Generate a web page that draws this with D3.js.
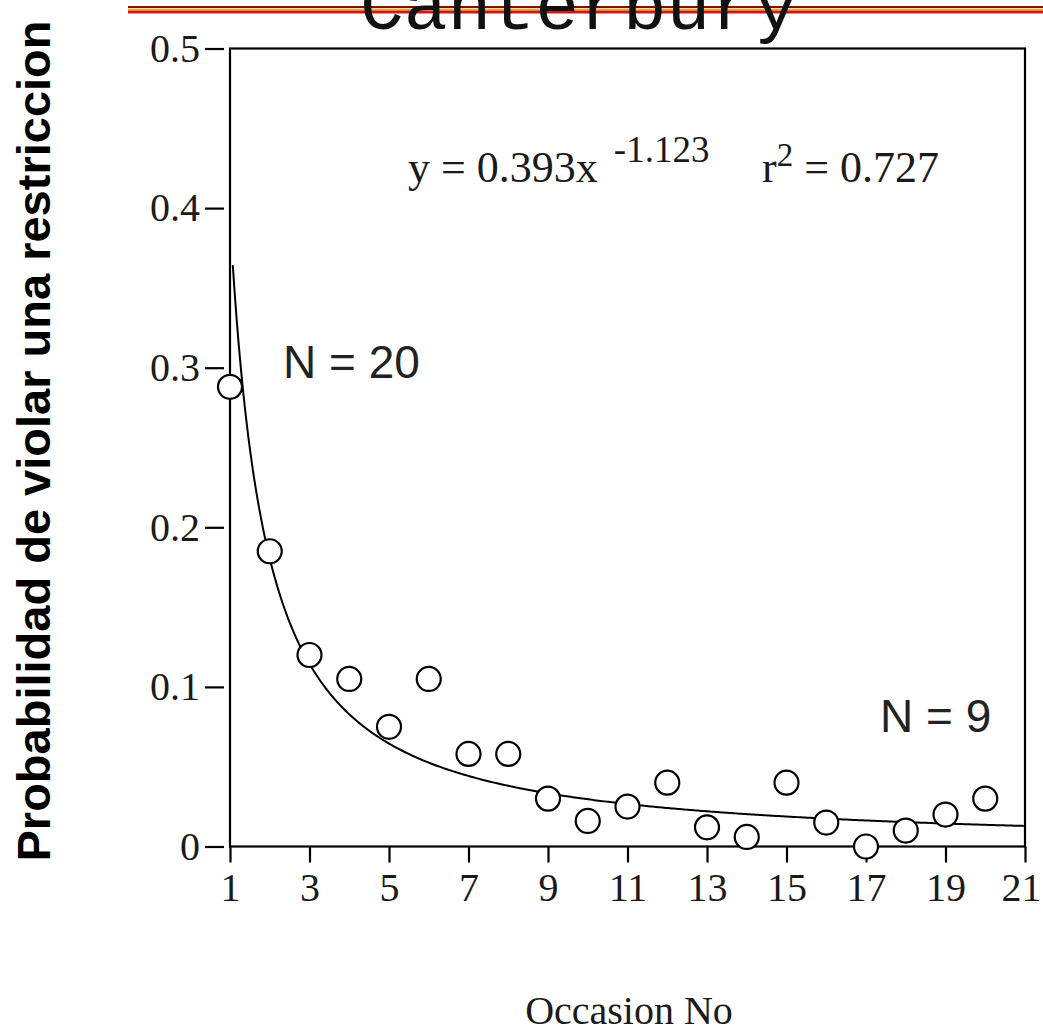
<!DOCTYPE html>
<html>
<head>
<meta charset="utf-8">
<script src="https://cdn.jsdelivr.net/npm/d3@7/dist/d3.min.js"></script>
<style>
  body { margin: 0; background: #fff; }
  .tick text { font-family: 'Liberation Serif', serif; font-size: 40px; fill: #1a1a1a; }
  .tick line { stroke: #000; stroke-width: 2.2; }
</style>
</head>
<body>
<div class="canvas"></div>
<script>
// data
const occasions = [1, 2, 3, 4, 5, 6, 7, 8, 9, 10, 11, 12, 13, 14, 15, 16, 17, 18, 19, 20]
const probability = [0.288, 0.185, 0.120, 0.105, 0.075, 0.105, 0.058, 0.058, 0.030, 0.016,
                     0.025, 0.040, 0.012, 0.006, 0.040, 0.015, 0.000, 0.010, 0.020, 0.030]
const xTicks = [1, 3, 5, 7, 9, 11, 13, 15, 17, 19, 21]
const yTicks = [0, 0.1, 0.2, 0.3, 0.4, 0.5]

// fitted power curve y = a * x^b, as printed on the chart
const fitA = 0.393
const fitB = -1.123
const fitFrom = 1.07

const dimension = { width: 1043, height: 1033 }
const plot = { left: 230, right: 1025, top: 48.5, bottom: 846.5 }

const svg = d3.select('.canvas')
  .append('svg')
  .attr('width', dimension.width)
  .attr('height', dimension.height)
  .style('display', 'block')

svg.append('rect')
  .attr('width', dimension.width)
  .attr('height', dimension.height)
  .attr('fill', '#fff')

const x = d3.scaleLinear().domain([1, 21]).range([plot.left, plot.right])
const y = d3.scaleLinear().domain([0, 0.5]).range([plot.bottom, plot.top])

// top red rule (slide header) and the title, cut off by the page edge
svg.append('line')
  .attr('x1', 128).attr('x2', dimension.width)
  .attr('y1', 7).attr('y2', 7)
  .attr('stroke', '#7a1010').attr('stroke-width', 2)
svg.append('line')
  .attr('x1', 128).attr('x2', dimension.width)
  .attr('y1', 9.5).attr('y2', 9.5)
  .attr('stroke', '#e8b820').attr('stroke-width', 2)
svg.append('line')
  .attr('x1', 128).attr('x2', dimension.width)
  .attr('y1', 12).attr('y2', 12)
  .attr('stroke', '#d01818').attr('stroke-width', 3)

svg.append('text')
  .attr('x', 579).attr('y', 29)
  .attr('text-anchor', 'middle')
  .style('font-family', "'Liberation Mono', monospace")
  .style('font-size', '73px')
  .attr('fill', '#111')
  .text('Canterbury')

// axes
const yAxis = d3.axisLeft(y)
  .tickValues(yTicks)
  .tickSize(19)
  .tickPadding(5)
  .tickFormat(d => d === 0 ? '0' : d3.format('.1f')(d))

svg.append('g')
  .attr('transform', `translate(${plot.left - 6}, 0)`)
  .call(yAxis)
  .call(g => g.select('.domain').remove())

const xAxis = d3.axisBottom(x)
  .tickValues(xTicks)
  .tickSize(16)
  .tickPadding(10)

svg.append('g')
  .attr('transform', `translate(0, ${plot.bottom})`)
  .call(xAxis)
  .call(g => g.select('.domain').remove())
  .call(g => g.selectAll('.tick text').filter(d => d === 21).attr('dx', -4))

// frame
svg.append('rect')
  .attr('x', plot.left).attr('y', plot.top)
  .attr('width', plot.right - plot.left)
  .attr('height', plot.bottom - plot.top)
  .attr('fill', 'none')
  .attr('stroke', '#000')
  .attr('stroke-width', 2.2)

// fitted curve
const fitX = d3.range(fitFrom, 21.001, 0.05)
const fitLine = d3.line()
  .x(d => x(d))
  .y(d => y(fitA * Math.pow(d, fitB)))

svg.append('path')
  .datum(fitX)
  .attr('d', fitLine)
  .attr('fill', 'none')
  .attr('stroke', '#000')
  .attr('stroke-width', 2)

// points
svg.append('g')
  .selectAll('circle')
  .data(occasions)
  .enter()
  .append('circle')
    .attr('cx', d => x(d))
    .attr('cy', (d, i) => y(probability[i]))
    .attr('r', 12)
    .attr('fill', '#fff')
    .attr('stroke', '#000')
    .attr('stroke-width', 2.2)

// annotations
const eq = svg.append('text')
  .attr('x', 408).attr('y', 182)
  .style('font-family', "'Liberation Serif', serif")
  .style('font-size', '44px')
  .attr('fill', '#1a1a1a')
eq.append('tspan').text('y = 0.393x')
eq.append('tspan').attr('dx', 16).attr('dy', -20).style('font-size', '37px').text('-1.123')

const rsq = svg.append('text')
  .attr('x', 762).attr('y', 182)
  .style('font-family', "'Liberation Serif', serif")
  .style('font-size', '44px')
  .attr('fill', '#1a1a1a')
rsq.append('tspan').text('r')
rsq.append('tspan').attr('dy', -16).style('font-size', '33px').text('2')
rsq.append('tspan').attr('dy', 16).text(' = 0.727')

svg.append('text')
  .attr('x', 283).attr('y', 378)
  .style('font-family', "'Liberation Sans', sans-serif")
  .style('font-size', '46px')
  .attr('fill', '#222')
  .text('N = 20')

svg.append('text')
  .attr('x', 880).attr('y', 732)
  .style('font-family', "'Liberation Sans', sans-serif")
  .style('font-size', '46px')
  .attr('fill', '#222')
  .text('N = 9')

// axis titles
svg.append('text')
  .attr('x', 629).attr('y', 1024)
  .attr('text-anchor', 'middle')
  .style('font-family', "'Liberation Serif', serif")
  .style('font-size', '40px')
  .attr('fill', '#1a1a1a')
  .text('Occasion No')

svg.append('text')
  .attr('transform', 'translate(50, 441) rotate(-90)')
  .attr('text-anchor', 'middle')
  .style('font-family', "'Liberation Sans', sans-serif")
  .style('font-size', '47px')
  .style('font-weight', 'bold')
  .attr('fill', '#000')
  .text('Probabilidad de violar una restriccion')
</script>
</body>
</html>
